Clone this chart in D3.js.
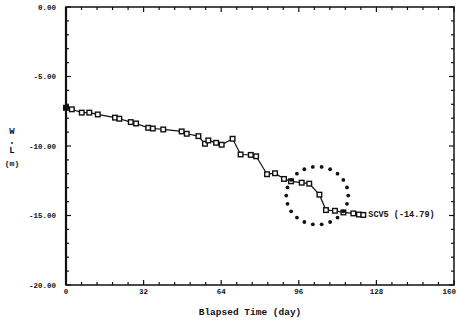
<!DOCTYPE html>
<html>
<head>
<meta charset="utf-8">
<script src="https://cdn.jsdelivr.net/npm/d3@7"></script>
<style>
  body { margin: 0; background: #fff; }
  text { font-family: "Liberation Mono", monospace; font-weight: bold; fill: #111; }
</style>
</head>
<body>
<script>
// readings: elapsed day, water level (m)
const days = [0, 2.4, 6.5, 9.6, 13.1, 20.2, 22.0, 26.7, 28.9, 33.9, 35.8, 40.1,
  47.7, 49.8, 54.6, 57.3, 58.7, 61.9, 64.2, 68.7, 72.0, 76.2, 78.4, 82.9,
  86.2, 89.9, 92.8, 97.2, 100.3, 104.5, 107.2, 110.9, 114.4, 118.5, 120.8, 122.6]
const levels = [-7.25, -7.36, -7.6, -7.6, -7.73, -7.96, -8.04, -8.28, -8.38, -8.69, -8.74, -8.81,
  -8.95, -9.12, -9.29, -9.84, -9.6, -9.77, -9.91, -9.48, -10.61, -10.64, -10.74, -12.03,
  -11.96, -12.37, -12.54, -12.64, -12.71, -13.5, -14.61, -14.66, -14.78, -14.85, -14.93, -14.96]
const xTicks = [0, 32, 64, 96, 128, 160]
const yTicks = [0, -5, -10, -15, -20]
const yTickLabels = ["0.00", "-5.00", "-10.00", "-15.00", "-20.00"]
const seriesLabel = "SCV5 (-14.79)"
const circleCenter = [103.6, -13.57]

const W = 457, H = 322
const m = {left: 66, right: 3, top: 7, bottom: 37}

const svg = d3.select("body").append("svg").attr("width", W).attr("height", H)

const x = d3.scaleLinear().domain([0, 160]).range([m.left, W - m.right])
const y = d3.scaleLinear().domain([-20, 0]).range([H - m.bottom, m.top])

// frame
svg.append("rect")
  .attr("x", x(0)).attr("y", y(0))
  .attr("width", x(160) - x(0)).attr("height", y(-20) - y(0))
  .attr("fill", "none").attr("stroke", "#111").attr("stroke-width", 1.5)
svg.append("line").attr("x1", x(0)).attr("x2", x(0)).attr("y1", y(0)).attr("y2", y(-20))
  .attr("stroke", "#111").attr("stroke-width", 2.2)

// inward ticks on all four sides
const yMinor = d3.range(-20, 0.01, 1)
const xMinor = d3.range(0, 160.01, 6.4)
function tickLen(v, step) { return Math.abs(v / step - Math.round(v / step)) < 1e-6 ? 5 : 3 }

const tk = svg.append("g").attr("stroke", "#111").attr("stroke-width", 1.2)
yMinor.forEach(v => {
  const l = tickLen(v, 5)
  tk.append("line").attr("x1", x(0)).attr("x2", x(0) + l).attr("y1", y(v)).attr("y2", y(v))
  tk.append("line").attr("x1", x(160)).attr("x2", x(160) - l).attr("y1", y(v)).attr("y2", y(v))
})
xMinor.forEach(v => {
  const l = tickLen(v, 32)
  tk.append("line").attr("x1", x(v)).attr("x2", x(v)).attr("y1", y(-20)).attr("y2", y(-20) - l)
  tk.append("line").attr("x1", x(v)).attr("x2", x(v)).attr("y1", y(0)).attr("y2", y(0) + l)
})

// tick labels
svg.append("g").selectAll("text").data(yTicks).join("text")
  .attr("x", x(0) - 10).attr("y", d => y(d) + 2.5)
  .attr("text-anchor", "end").attr("font-size", 7.5)
  .text((d, i) => yTickLabels[i])
svg.append("g").selectAll("text").data(xTicks).join("text")
  .attr("x", d => d === 160 ? x(d) + 2 : x(d)).attr("y", y(-20) + 9)
  .attr("text-anchor", d => d === 160 ? "end" : "middle").attr("font-size", 7.5)
  .text(d => d)

// axis titles
svg.append("text").attr("x", 250).attr("y", 315).attr("text-anchor", "middle")
  .attr("font-size", 9.5).text("Blapsed Time (day)")
const yl = svg.append("g").attr("text-anchor", "middle")
yl.append("text").attr("x", 12).attr("y", 134).attr("font-size", 9).text("W")
yl.append("circle").attr("cx", 12).attr("cy", 143).attr("r", 0.9).attr("fill", "#111")
yl.append("text").attr("x", 12).attr("y", 153).attr("font-size", 9).text("L")
yl.append("text").attr("x", 12).attr("y", 166).attr("font-size", 8).text("(m)")

// series
const pts = days.map((d, i) => [d, levels[i]])
svg.append("path").datum(pts)
  .attr("fill", "none").attr("stroke", "#111").attr("stroke-width", 1.2)
  .attr("d", d3.line().x(d => x(d[0])).y(d => y(d[1])))
svg.append("g").selectAll("rect").data(pts).join("rect")
  .attr("x", d => x(d[0]) - 2.3).attr("y", d => y(d[1]) - 2.3)
  .attr("width", 4.6).attr("height", 4.6)
  .attr("fill", (d, i) => i === 0 ? "#111" : "#fff")
  .attr("stroke", "#111").attr("stroke-width", 1.4)

const last = pts[pts.length - 1]
svg.append("text").attr("x", x(last[0]) + 5).attr("y", y(last[1]) + 2.5)
  .attr("font-family", "Liberation Serif").attr("font-size", 8.5).text(seriesLabel)

// dotted highlight circle
const cx = x(circleCenter[0]), cy = y(circleCenter[1])
svg.append("g").selectAll("circle").data(d3.range(22)).join("circle")
  .attr("cx", i => cx + 31 * Math.cos(i / 22 * 2 * Math.PI))
  .attr("cy", i => cy + 29 * Math.sin(i / 22 * 2 * Math.PI))
  .attr("r", 1.9).attr("fill", "#111")
</script>
</body>
</html>
